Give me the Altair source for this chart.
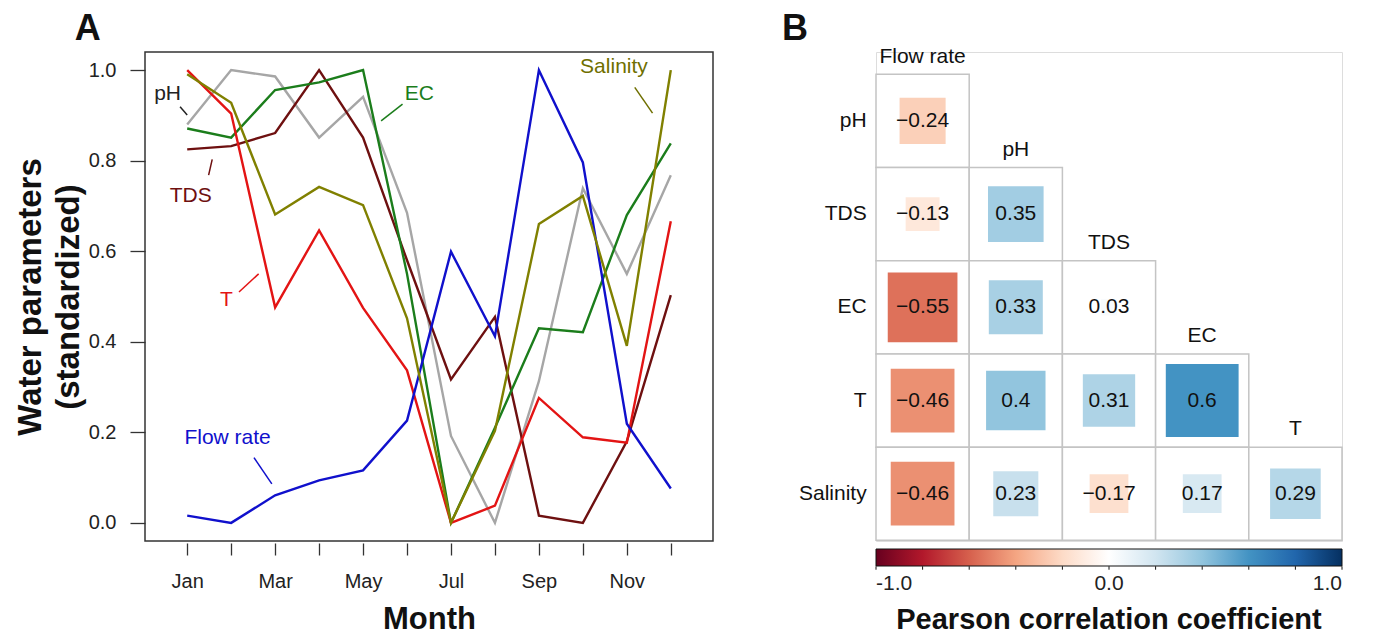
import altair as alt
import pandas as pd

FONT = "Liberation Sans"

# ---------------- Panel A data ----------------
MONTHS = ["Jan", "Feb", "Mar", "Apr", "May", "Jun", "Jul", "Aug", "Sep", "Oct", "Nov", "Dec"]
month_num = list(range(1, 13))

ph = [0.880, 1.000, 0.986, 0.851, 0.941, 0.685, 0.192, 0.000, 0.313, 0.739, 0.550, 0.768]
tds = [0.825, 0.832, 0.861, 1.000, 0.851, 0.580, 0.317, 0.455, 0.016, 0.000, 0.180, 0.503]
ec = [0.871, 0.851, 0.956, 0.973, 1.000, 0.550, 0.000, 0.210, 0.430, 0.421, 0.680, 0.838]
temp = [1.000, 0.904, 0.476, 0.646, 0.475, 0.337, 0.000, 0.038, 0.276, 0.189, 0.177, 0.666]
flow_rate = [0.016, 0.000, 0.061, 0.094, 0.116, 0.226, 0.599, 0.412, 1.000, 0.796, 0.219, 0.076]
salinity = [0.991, 0.928, 0.681, 0.742, 0.702, 0.452, 0.000, 0.203, 0.660, 0.722, 0.391, 1.000]

series_names = ["pH", "TDS", "EC", "T", "Flow rate", "Salinity"]
series_values = [ph, tds, ec, temp, flow_rate, salinity]
series_colors = ["#a6a6a6", "#6e1010", "#1b7d1b", "#e31414", "#1010cc", "#808000"]

# annotation labels and leader lines (data units: month, standardized value)
ann_text = ["pH", "TDS", "T", "EC", "Salinity", "Flow rate"]
ann_x = [0.553, 1.081, 1.894, 6.28, 10.707, 1.918]
ann_y = [0.947, 0.722, 0.493, 0.947, 1.006, 0.188]
ann_color = ["#222222", "#6e1010", "#e31414", "#1b7d1b", "#6f6f00", "#1010cc"]
lead_x = [0.838, 1.569, 2.178, 5.411, 11.18, 2.519]
lead_x2 = [1.000, 1.487, 2.625, 5.898, 11.585, 2.925]
lead_y = [0.919, 0.803, 0.510, 0.888, 0.962, 0.144]
lead_y2 = [0.901, 0.768, 0.550, 0.925, 0.905, 0.086]

# ---------------- Panel B data ----------------
col_vars = ["Flow rate", "pH", "TDS", "EC", "T"]
row_vars = ["pH", "TDS", "EC", "T", "Salinity"]
corr_row = ["pH", "TDS", "TDS", "EC", "EC", "EC", "T", "T", "T", "T",
            "Salinity", "Salinity", "Salinity", "Salinity", "Salinity"]
corr_col = ["Flow rate", "Flow rate", "pH", "Flow rate", "pH", "TDS",
            "Flow rate", "pH", "TDS", "EC",
            "Flow rate", "pH", "TDS", "EC", "T"]
corr_val = [-0.24, -0.13, 0.35, -0.55, 0.33, 0.03, -0.46, 0.40, 0.31, 0.60,
            -0.46, 0.23, -0.17, 0.17, 0.29]
cbar_ticks = [-1.0, -0.8, -0.6, -0.4, -0.2, 0.0, 0.2, 0.4, 0.6, 0.8, 1.0]
rdbu_stops = [-1.0, -0.8, -0.6, -0.4, -0.2, 0.0, 0.2, 0.4, 0.6, 0.8, 1.0]
rdbu_colors = ["#67001F", "#B2182B", "#D6604D", "#F4A582", "#FDDBC7", "#FFFFFF",
               "#D1E5F0", "#92C5DE", "#4393C3", "#2166AC", "#053061"]

# ---------------- Panel A chart ----------------
rows = []
for name, vals, colr in zip(series_names, series_values, series_colors):
    for m, v in zip(month_num, vals):
        rows.append({"month": m, "value": v, "series": name, "col": colr})
df_lines = pd.DataFrame(rows)

xA = alt.Scale(domain=[0.04, 12.96], nice=False, zero=False)
yA = alt.Scale(domain=[-0.04, 1.04], nice=False, zero=False)

month_js = "[" + ",".join("'%s'" % m for m in MONTHS) + "]"

lines = alt.Chart(df_lines).mark_line(strokeWidth=2.4, clip=True).encode(
    x=alt.X("month:Q", scale=xA, title="Month",
            axis=alt.Axis(values=month_num, labelExpr="datum.value % 2 == 1 ? " + month_js + "[datum.value - 1] : ''",
                          grid=False, domain=False, tickSize=12, tickColor="#333", tickWidth=1.3,
                          offset=2, labelFontSize=20, labelFont=FONT, labelColor="#222",
                          labelPadding=16, labelOverlap=False, labelFlush=False,
                          titleFontSize=31, titleFont=FONT, titleFontWeight="bold",
                          titleColor="#111", titlePadding=13)),
    y=alt.Y("value:Q", scale=yA, title=["Water parameters", "(standardized)"],
            axis=alt.Axis(values=[0, 0.2, 0.4, 0.6, 0.8, 1.0], format=".1f", grid=False, domain=False,
                          tickSize=15, tickColor="#333", tickWidth=1.3, labelFontSize=20,
                          labelFont=FONT, labelColor="#222", labelPadding=14,
                          titleFontSize=33, titleFont=FONT, titleFontWeight="bold",
                          titleColor="#111", titleLineHeight=38, titlePadding=3)),
    color=alt.Color("col:N", scale=None),
    detail="series:N",
    order=alt.Order("month:Q"),
)

df_ann = pd.DataFrame({"text": ann_text, "x": ann_x, "y": ann_y, "c": ann_color,
                       "x1": lead_x, "x2": lead_x2, "y1": lead_y, "y2": lead_y2})

leaders = alt.Chart(df_ann).mark_rule(strokeWidth=1.5).encode(
    x=alt.X("x1:Q", scale=xA), x2="x2:Q",
    y=alt.Y("y1:Q", scale=yA), y2="y2:Q",
    color=alt.Color("c:N", scale=None),
)
ann_labels = alt.Chart(df_ann).mark_text(fontSize=21, font=FONT, align="center", baseline="middle").encode(
    x=alt.X("x:Q", scale=xA), y=alt.Y("y:Q", scale=yA),
    text="text:N", color=alt.Color("c:N", scale=None),
)
panel_a = alt.Chart(pd.DataFrame({"t": ["A"], "x": [-1.264], "y": [1.066]})).mark_text(
    fontSize=36, font=FONT, fontWeight="bold", align="center", baseline="alphabetic", color="#111"
).encode(x=alt.X("x:Q", scale=xA), y=alt.Y("y:Q", scale=yA), text="t:N")

left = alt.layer(lines, leaders, ann_labels, panel_a).properties(
    width=568, height=489,
    view=alt.ViewBackground(stroke="#333", strokeWidth=1.5),
)

# ---------------- Panel B chart ----------------
df_c = pd.DataFrame({"row": corr_row, "colv": corr_col, "r": corr_val})
df_c["j"] = [col_vars.index(c) for c in df_c["colv"]]
df_c["i"] = [row_vars.index(r) for r in df_c["row"]]
df_c["j2"] = df_c["j"] + 1
df_c["i2"] = df_c["i"] + 1
df_c["jc"] = df_c["j"] + 0.5
df_c["ic"] = df_c["i"] + 0.5
df_c["absr"] = df_c["r"].abs()
df_c["lab"] = [("%g" % v).replace("-", "\u2212") for v in df_c["r"]]

xB = alt.Scale(domain=[0, 5], nice=False, zero=False)
yB = alt.Scale(domain=[-0.239, 5.007], nice=False, zero=False, reverse=True)

cells = alt.Chart(df_c).mark_rect(fill="white", stroke="#c4c4c4", strokeWidth=1.5).encode(
    x=alt.X("j:Q", scale=xB, axis=None), x2="j2:Q",
    y=alt.Y("i:Q", scale=yB, axis=None), y2="i2:Q",
)
squares = alt.Chart(df_c).mark_square(opacity=1, strokeWidth=0).encode(
    x=alt.X("jc:Q", scale=xB, axis=None),
    y=alt.Y("ic:Q", scale=yB, axis=None),
    size=alt.Size("absr:Q", scale=alt.Scale(domain=[0, 1], range=[0, 8836], zero=True), legend=None),
    color=alt.Color("r:Q", scale=alt.Scale(domain=rdbu_stops, range=rdbu_colors, interpolate="rgb"),
                    legend=alt.Legend(orient="none", legendX=0, legendY=497, direction="horizontal",
                                      gradientLength=466, gradientThickness=17,
                                      gradientStrokeColor="#111", gradientStrokeWidth=1,
                                      values=[-1, 0, 1],
                                      labelExpr="replace(format(datum.value, '.1f'), '\u2212', '-')",
                                      labelFontSize=21, labelFont=FONT, labelColor="#222",
                                      labelAlign="center", labelOffset=7,
                                      title="Pearson correlation coefficient", titleLimit=800,
                                      titleOrient="bottom", titleAnchor="middle",
                                      titleFontSize=29, titleFont=FONT, titleFontWeight="bold",
                                      titleColor="#111", titlePadding=12)),
)
numbers = alt.Chart(df_c).mark_text(fontSize=21, font=FONT, color="#111", baseline="middle").encode(
    x=alt.X("jc:Q", scale=xB, axis=None),
    y=alt.Y("ic:Q", scale=yB, axis=None),
    text="lab:N",
)

df_head = pd.DataFrame({"t": col_vars})
df_head["x"] = [k + 0.5 for k in range(len(col_vars))]
df_head["y"] = [k - 0.19 for k in range(len(col_vars))]
headers = alt.Chart(df_head).mark_text(fontSize=21, font=FONT, color="#111", baseline="middle").encode(
    x=alt.X("x:Q", scale=xB, axis=None), y=alt.Y("y:Q", scale=yB, axis=None), text="t:N"
)

df_rowlab = pd.DataFrame({"t": row_vars})
df_rowlab["x"] = [-0.1] * len(row_vars)
df_rowlab["y"] = [k + 0.5 for k in range(len(row_vars))]
rowlabels = alt.Chart(df_rowlab).mark_text(fontSize=21, font=FONT, color="#111", align="right",
                                            baseline="middle").encode(
    x=alt.X("x:Q", scale=xB, axis=None), y=alt.Y("y:Q", scale=yB, axis=None), text="t:N"
)

df_tk = pd.DataFrame({"v": cbar_ticks})
df_tk["x"] = (df_tk["v"] + 1) * 2.5
df_tk["y1"] = 5.278
df_tk["y2"] = 5.315
cb_ticks = alt.Chart(df_tk).mark_rule(color="#111", strokeWidth=1).encode(
    x=alt.X("x:Q", scale=xB, axis=None),
    y=alt.Y("y1:Q", scale=yB, axis=None), y2="y2:Q",
)

panel_b = alt.Chart(pd.DataFrame({"t": ["B"], "x": [-0.869], "y": [-0.368]})).mark_text(
    fontSize=36, font=FONT, fontWeight="bold", align="center", baseline="alphabetic", color="#111"
).encode(x=alt.X("x:Q", scale=xB, axis=None), y=alt.Y("y:Q", scale=yB, axis=None), text="t:N")

right = alt.layer(cells, squares, numbers, headers, rowlabels, cb_ticks, panel_b).properties(
    width=466, height=489,
)

chart = alt.hconcat(left, right, spacing=67).resolve_scale(
    x="independent", y="independent", color="independent", size="independent"
).properties(
    padding={"left": 5, "top": 2, "right": 5, "bottom": 0}
).configure_view(strokeWidth=0).configure(font=FONT, background="white")

chart.save("out.html", embed_options={"renderer": "svg", "actions": False})
